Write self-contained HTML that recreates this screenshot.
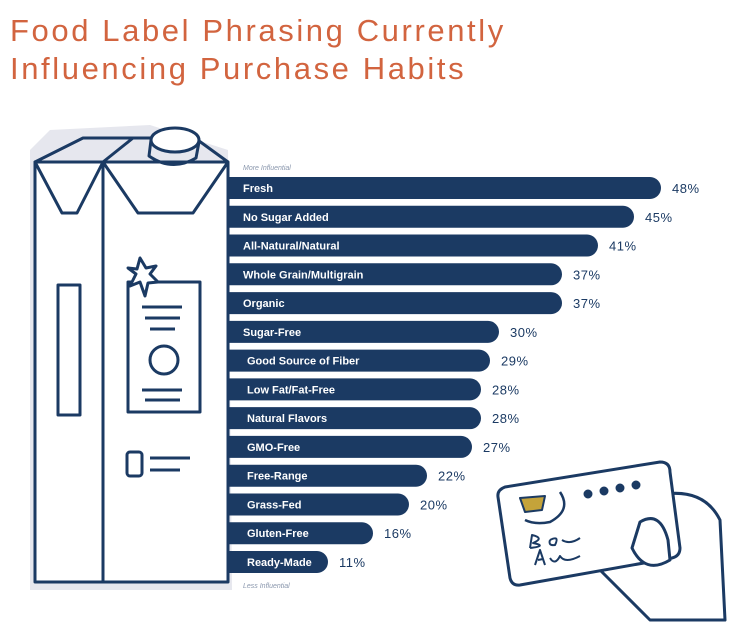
<!DOCTYPE html>
<html><head><meta charset="utf-8"><style>
body{margin:0;background:#fff;width:750px;height:628px;overflow:hidden;font-family:"Liberation Sans",sans-serif}
#t{position:absolute;left:10px;top:12px;color:#d2643f;font-size:31px;line-height:38px;letter-spacing:2.6px;margin:0;font-weight:normal}
svg{position:absolute;left:0;top:0}
</style></head><body>
<h1 id="t">Food Label Phrasing Currently<br>Influencing Purchase Habits</h1>
<svg width="750" height="628">
<g fill="none" stroke="#1b3a63" stroke-width="3" stroke-linejoin="round">
<path d="M30 150 L50 130 L150 125 L228 150 L232 590 L30 590 Z" fill="#e6e7ee" stroke="none"/>
<path d="M35 162 L35 582 L228 582 L228 162 Z" fill="#fff"/>
<path d="M35 162 L83 138 L133 138 L103 162 Z M103 162 L133 138 L195 138 L228 162"/>
<path d="M35 162 L62 213 L77 213 L103 162 M103 162 L103 582 M103 162 L138 213 L193 213 L228 162"/>
<ellipse cx="175" cy="140" rx="24" ry="12" fill="#fff"/>
<path d="M151 140 L149 156 Q172 172 196 158 L199 142"/>
<rect x="58" y="285" width="22" height="130"/>
<rect x="128" y="282" width="72" height="130"/>
<path d="M128 268 L136 274 L130 286 L140 282 L145 296 L148 283 L158 282 L150 274 L156 266 L146 268 L140 258 L137 269 Z" fill="#fff"/>
<path d="M142 307 L182 307 M145 318 L180 318 M150 329 L175 329 M142 390 L182 390 M145 400 L180 400"/>
<circle cx="164" cy="360" r="14"/>
<rect x="127" y="452" width="15" height="24" rx="3"/>
<path d="M150 458 L190 458 M150 470 L180 470"/>
</g>
<g fill="none" stroke="#1b3a63" stroke-width="3" stroke-linejoin="round">
<path d="M640 500 Q700 480 720 520 L725 620 L650 620 Q620 590 600 570" fill="#fff"/>
<path d="M505 487 L660 462 Q670 462 670 472 L680 548 Q680 556 672 558 L520 585 Q512 586 510 578 L498 497 Q497 490 505 487 Z" fill="#fff"/>
<path d="M640 522 Q660 510 668 540 L670 560 Q645 575 632 548 Z" fill="#fff"/>
<path d="M520 498 L545 496 L542 510 L525 512 Z" fill="#c4a33a" stroke-width="2"/>
<circle cx="588" cy="494" r="3" fill="#1b3a63"/><circle cx="604" cy="491" r="3" fill="#1b3a63"/><circle cx="620" cy="488" r="3" fill="#1b3a63"/><circle cx="636" cy="485" r="3" fill="#1b3a63"/>
<path d="M560 492 Q572 510 550 522 Q535 525 525 520" stroke-width="2.5"/>
<path d="M530 548 L532 535 Q545 538 533 543 Q548 546 530 548 M550 540 Q560 535 555 545 Q548 546 550 540 M562 540 Q570 545 580 538" stroke-width="2"/>
<path d="M535 565 L540 550 L545 565 M538 560 L543 559 M550 558 Q555 566 560 556 Q565 564 580 556" stroke-width="2"/>
</g>
<text x="243" y="170" font-size="7" font-style="italic" fill="#8a97ad">More Influential</text>
<text x="243" y="588" font-size="7" font-style="italic" fill="#8a97ad">Less Influential</text>
<g id="bars"></g>
</svg>
<script>
const categories=["Fresh","No Sugar Added","All-Natural/Natural","Whole Grain/Multigrain","Organic","Sugar-Free","Good Source of Fiber","Low Fat/Fat-Free","Natural Flavors","GMO-Free","Free-Range","Grass-Fed","Gluten-Free","Ready-Made"];
const values=[48,45,41,37,37,30,29,28,28,27,22,20,16,11];
const ns="http://www.w3.org/2000/svg";
const g=document.getElementById('bars');
const x0=229,pxPer=9,yTop=177,step=28.77,h=22;
function xs(v){return x0+v*pxPer;}
function ys(i){return yTop+i*step;}
categories.forEach((c,i)=>{
  const w=xs(values[i])-x0,y=ys(i);
  const p=document.createElementNS(ns,'path');
  p.setAttribute('d',`M${x0} ${y} H${x0+w-h/2} A${h/2} ${h/2} 0 0 1 ${x0+w-h/2} ${y+h} H${x0} Z`);
  p.setAttribute('fill','#1b3a63');
  
  
  g.appendChild(p);
  const t=document.createElementNS(ns,'text');
  t.setAttribute('x',i>=6?247:243);t.setAttribute('y',y+15);
  t.setAttribute('fill','#fff');t.setAttribute('font-size','11');t.setAttribute('font-weight','bold');
  t.textContent=c;
  
  
  g.appendChild(t);
  const v=document.createElementNS(ns,'text');
  v.setAttribute('x',xs(values[i])+11);v.setAttribute('y',y+16);
  v.setAttribute('fill','#1b3a63');v.setAttribute('font-size','13');v.setAttribute('letter-spacing','0.5');
  v.textContent=values[i]+'%';
  
  
  g.appendChild(v);
});
</script>
</body></html>
